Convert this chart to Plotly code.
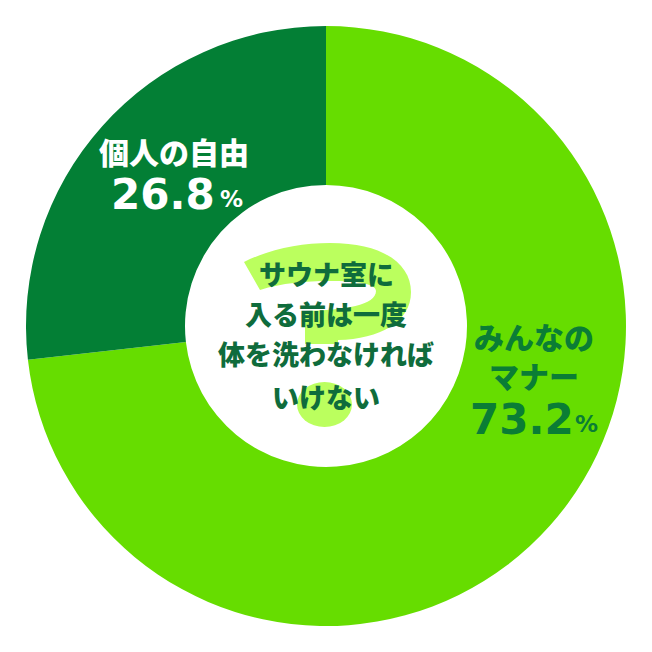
import plotly.graph_objects as go

categories = ["みんなのマナー", "個人の自由"]
values = [73.2, 26.8]
colors = ["#66dd00", "#037f35"]

# The page body has an 8 px margin, so the figure starts at (8, 8) in the window
OFF = 8
W = 644
DARK = "#0a7d35"
TEXT = "#0f6c3c"
MARK = "#bbff5e"
CJK = "Noto Sans CJK JP"
NUM = "DejaVu Sans"

def fx(px):
    return (px - OFF) / W

def fy(py):
    return 1 - (py - OFF) / W

fig = go.Figure(go.Pie(
    labels=categories, values=values, hole=0.47, sort=False,
    direction="clockwise", rotation=0, textinfo="none", hoverinfo="label+percent",
    marker=dict(colors=colors, line=dict(width=0)), showlegend=False,
    domain=dict(x=[fx(26), fx(626)], y=[fy(626), fy(26)]),
))

# Decorative question mark behind the centre text
hook = [
    ("M", [(244, 262)]),
    ("C", [(270, 249), (300, 243), (330, 243)]),
    ("C", [(385, 243), (411, 265), (411, 292)]),
    ("C", [(411, 322), (380, 339), (338, 340)]),
    ("L", [(338, 344)]),
    ("L", [(305, 344)]),
    ("L", [(305, 311)]),
    ("C", [(345, 310), (376, 305), (376, 291)]),
    ("C", [(376, 284), (358, 281), (330, 281)]),
    ("C", [(305, 281), (282, 283), (260, 290)]),
]
path = " ".join(c + " ".join(f"{fx(x):.5f},{fy(y):.5f}" for x, y in pts) for c, pts in hook) + " Z"
fig.add_shape(type="path", path=path, xref="paper", yref="paper", layer="above",
              fillcolor=MARK, line=dict(width=0))
fig.add_shape(type="circle", xref="paper", yref="paper", layer="above",
              x0=fx(297), x1=fx(352), y0=fy(427), y1=fy(382),
              fillcolor=MARK, line=dict(width=0))

def note(text, px, py, size, color, family=CJK, weight=900):
    fig.add_annotation(text=text, x=fx(px), y=fy(py), xref="paper", yref="paper",
                       showarrow=False, xanchor="center", yanchor="middle",
                       font=dict(family=family, size=size, color=color, weight=weight),
                       align="center", borderpad=0)

center_lines = ["サウナ室に", "入る前は一度", "体を洗わなければ", "いけない"]
for line, y in zip(center_lines, [273, 313, 353, 396]):
    note(line, 326, y, 27, TEXT)

note("個人の自由", 174, 151, 30, "white")
note("26.8", 163, 194, 42, "white", NUM, 700)
note("%", 231, 199, 23, "white", NUM, 700)

note("みんなの<br>マナー", 534, 355, 30, DARK)
note("73.2", 522, 419, 42, DARK, NUM, 700)
note("%", 586, 424, 23, DARK, NUM, 700)

fig.update_layout(width=W, height=W, margin=dict(l=0, r=0, t=0, b=0),
                  paper_bgcolor="white", plot_bgcolor="white")
fig.write_html("out.html")
